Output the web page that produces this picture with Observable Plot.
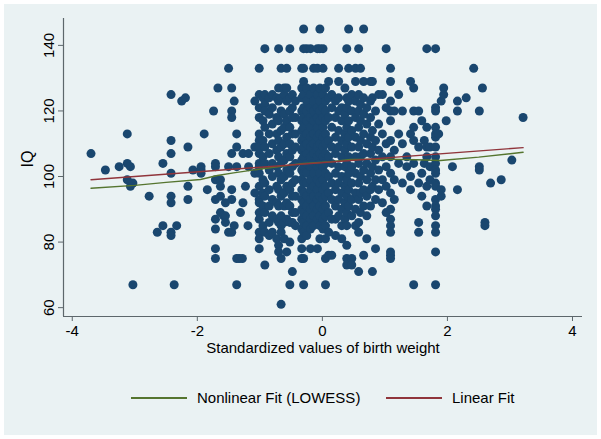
<!DOCTYPE html>
<html><head><meta charset="utf-8">
<script src="https://cdn.jsdelivr.net/npm/d3@7"></script>
<script src="https://cdn.jsdelivr.net/npm/@observablehq/plot@0.6"></script>
<style>
body{margin:0;background:#fff;}
#wrap{position:relative;width:601px;height:439px;box-sizing:border-box;border:4px solid #fff;background:#eaf2f3;font-family:"Liberation Sans",Arial,sans-serif;}
#chart svg{display:block;background:transparent;}
#legend{position:relative;height:67px;font-size:15px;color:#000;}
.sw{position:absolute;top:31px;width:56px;height:1.5px;}
.lb{position:absolute;top:23px;line-height:17px;white-space:nowrap;}
</style></head><body>
<div id="wrap"><div id="chart"></div><div id="legend"></div></div>
<script>
// Axis settings
const xDomain = [-4.14, 4.16];
const yDomain = [57.3, 148.2];
const xTicks = [-4, -2, 0, 2, 4];
const yTicks = [60, 80, 100, 120, 140];
const xTitle = "Standardized values of birth weight";
const yTitle = "IQ";
const seriesNames = ["Nonlinear Fit (LOWESS)", "Linear Fit"];

// Scatter data: standardized birth weight value and the IQ values observed at it
const stripeX = [
 -3.70,-3.47,-3.25,-3.12,-3.07,-3.03,-2.77,-2.64,-2.55,-2.42,-2.37,-2.33,-2.25,-2.19,-2.15,-2.07,-1.94,-1.89,-1.84,-1.74,
 -1.71,-1.67,-1.63,-1.58,-1.55,-1.50,-1.45,-1.41,-1.37,-1.33,-1.31,-1.28,-1.27,-1.23,-1.19,-1.18,
 -1.08,-1.01,-0.95,-0.92,-0.85,-0.80,-0.73,-0.70,-0.66,-0.61,-0.57,-0.52,-0.48,-0.43,
 -0.33,-0.30,-0.25,-0.19,-0.14,-0.08,-0.04,0.01,0.05,0.10,0.15,0.21,0.26,0.31,0.36,0.39,0.42,0.47,0.53,0.58,0.61,0.66,0.71,0.77,0.80,0.85,0.90,0.96,1.02,1.09,1.15,1.22,1.28,1.35,1.41,1.46,1.54,1.59,1.63,1.67,1.72,1.81,1.86,1.90,1.94,1.98,2.08,2.16,2.30,2.42,2.51,2.56,2.60,2.69,2.86,3.03,3.21
];
const stripeIQ = [
 [107],[102],[103],[113,104,99],[103,97],[98,67],[94],[83],[104,85],[125,111,107,101,94,92,83,82],[67],[85],[123],[124],[109,97,93],[102],[103,102,101],[113],[96],[120],
 [104,103,99,93,87,84,78,75],[127],[99,97,94,89],[88],[92,88,86],[133,103,83],[127,120,118,107,96,93,83],[123,85],[113,109,103,75,67],[75],[89],[75],[107,92],[97],[85],[107,103],
 [123,109,101,95],[133,125,121,118,113,111,109,107,104,103,101,97,93,92,89,87,83,81,78],[124,117,111,106,99,95,91,85],[139,125,122,120,115,109,104,98,94,89,83,73],
 [124,119,113,107,102,96,91,86,82],[125,121,116,110,104,100,93,88,83],[124,118,113,108,103,97,92,87,81],[139,127,123,117,111,106,101,96,91,86,79,77],
 [133,124,120,114,109,104,99,94,88,85,83,75,61],[127,125,119,115,110,105,100,95,91,86,81],[133,127,123,117,112,107,102,97,92,87,77],
 [139,124,120,115,110,106,101,96,91,86,80,67],[125,121,118,113,108,103,98,94,89,86,71],[123,118,113,109,104,99,94,89,85],
 [133,127,124,120,117,114,111,108,105,102,99,96,93,90,87,84,81,78,75],[145,139,133,129,125,121,118,115,112,109,106,103,101,98,95,92,89,86,83,75,67],
 [139,127,123,120,117,113,110,107,104,101,98,94,91,88,85,82],[139,125,121,118,115,112,109,106,103,99,96,93,90,87,84,78],
 [133,127,123,120,117,113,110,107,104,101,97,94,91,88,85],[139,133,125,121,118,115,112,109,106,103,99,96,93,90,87,78],
 [145,139,127,123,120,117,113,110,107,104,101,98,94,91,88,85,81],[139,133,125,121,118,115,112,109,106,103,99,96,93,90,87,84],
 [127,123,120,117,113,110,107,104,101,97,94,91,88,85,81,75,67],[129,124,118,111,106,100,95,89,83,76],[125,121,115,109,104,98,93,87,76],
 [123,118,112,107,101,96,91,87,82],[133,129,124,120,114,109,103,98,93,88],[121,117,111,106,100,95,90,85,81],[127,119,113,108,103,97,92,87],
 [139,124,121,115,110,104,99,94,89,85,79,75,73],[145,133,123,117,112,106,101,96,91],[125,120,114,109,103,98,93,88,75,73],
 [133,129,123,118,112,106,101,95,90,85],[139,125,120,115,109,104,98,93,86,83,71],[133,122,117,111,106,100,95,89],
 [145,129,124,119,113,107,102,96,91,76],[121,116,110,104,99,94,88,81],[129,123,118,112,107,101,96,91],[129,124,114,109,103,97,71],
 [120,111,105,99,93,78],[125,116,108,102,96],[125,113,106,99,92],[139,121,110,103,97,89],
 [133,129,123,120,117,111,106,101,95,90,87,85,83,77,76,75],[120,108,99,93],[125,113,104],[120,110,98],[106,103],[129,113,100,96],
 [127,120,115,111,104,67],[120,109,98,86,83],[117,101,94],[111,104],[139,115,109,106,97,91],[109,103,99],
 [139,121,120,115,113,112,109,106,104,102,101,98,97,93,91,90,88,85,83,77,67],[113],[123,96,94],[127,125],[117],[103],[123,120,96],[124],[133],[120,103,102],[127],[86,85],[98],[99],[105],[118]
];

// Fit lines
const lowessX = [-3.70,-3.00,-2.50,-1.95,-1.68,-1.42,-0.99,-0.35,0.13,0.45,1.00,1.51,1.89,2.50,3.21];
const lowessY = [96.4,97.3,98.2,99.1,100.3,101.1,102.3,103.9,104.5,105.2,105.3,105.1,104.9,105.9,107.4];
const linearX = [-3.70, 3.21];
const linearY = [99.0, 108.8];

const colors = {dot:"#1a476f", lowess:"#55752f", linear:"#90353b", axis:"#5d676b"};

const pts = stripeX.flatMap((x, i) => stripeIQ[i].map(iq => ({x, iq})));
const lowess = lowessX.map((x, i) => ({x, y: lowessY[i]}));
const linear = linearX.map((x, i) => ({x, y: linearY[i]}));

const chart = Plot.plot({
  width: 593, height: 362,
  marginLeft: 59, marginRight: 15, marginTop: 14, marginBottom: 50,
  style: {background: "transparent", fontFamily: "'Liberation Sans', Arial, sans-serif", fontSize: "15px", color: "#000"},
  x: {domain: xDomain},
  y: {domain: yDomain},
  marks: [
    Plot.dot(pts, {x: "x", y: "iq", r: 4.5, fill: colors.dot, stroke: "none"}),
    Plot.line(lowess, {x: "x", y: "y", stroke: colors.lowess, strokeWidth: 1.4}),
    Plot.line(linear, {x: "x", y: "y", stroke: colors.linear, strokeWidth: 1.4}),
    Plot.ruleX([xDomain[0]], {stroke: colors.axis, strokeWidth: 1.2}),
    Plot.ruleY([yDomain[0]], {stroke: colors.axis, strokeWidth: 1.2}),
    Plot.axisX({ticks: xTicks, tickSize: 5, tickPadding: 4, stroke: colors.axis, fill: "#000", fontSize: 15, label: null, tickFormat: d => d < 0 ? "-" + Math.abs(d) : String(d)}),
    Plot.axisY({ticks: yTicks, tickSize: 5, tickPadding: 5, tickRotate: -90, stroke: colors.axis, fill: "#000", fontSize: 15, label: null}),
    Plot.text([xTitle], {frameAnchor: "bottom", dy: 36, fontSize: 15, fill: "#000"}),
    Plot.text([yTitle], {frameAnchor: "left", dx: -36, rotate: -90, fontSize: 16, fill: "#000"})
  ]
});
document.getElementById("chart").appendChild(chart);

const legend = document.getElementById("legend");
const items = [
  {name: seriesNames[0], color: colors.lowess, left: 127},
  {name: seriesNames[1], color: colors.linear, left: 382}
];
items.forEach(it => {
  const sw = document.createElement("div");
  sw.className = "sw"; sw.style.left = it.left + "px"; sw.style.background = it.color;
  const lb = document.createElement("div");
  lb.className = "lb"; lb.style.left = (it.left + 66) + "px"; lb.textContent = it.name;
  legend.appendChild(sw); legend.appendChild(lb);
});
</script>
</body></html>
